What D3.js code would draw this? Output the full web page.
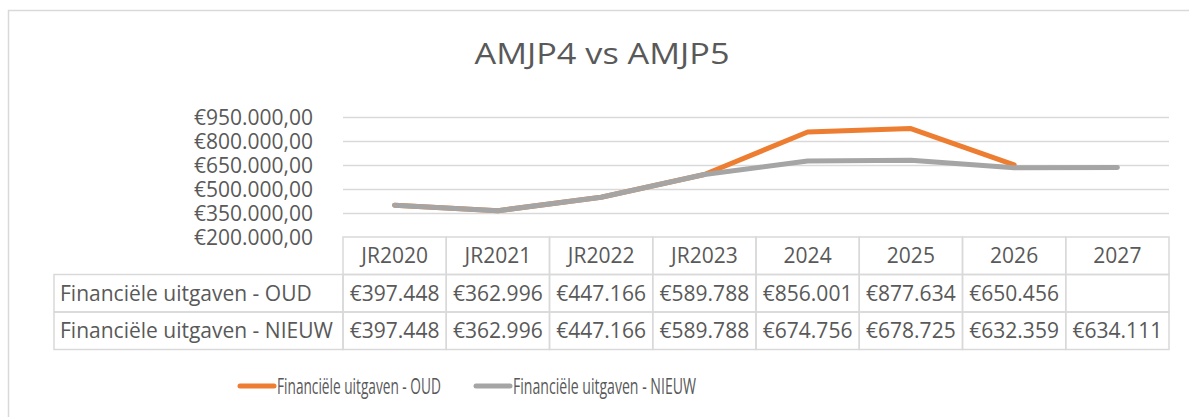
<!DOCTYPE html>
<html>
<head>
<meta charset="utf-8">
<script src="https://cdn.jsdelivr.net/npm/d3@7"></script>
<style>
  body { margin: 0; background: #fff; }
  text { font-family: "Open Sans", sans-serif; fill: #595959; }
</style>
</head>
<body>
<div id="chart"></div>
<script>
var categories = ['JR2020', 'JR2021', 'JR2022', 'JR2023', '2024', '2025', '2026', '2027'];
var oudValues = [397448, 362996, 447166, 589788, 856001, 877634, 650456, null];
var nieuwValues = [397448, 362996, 447166, 589788, 674756, 678725, 632359, 634111];
var seriesNames = ['Financiële uitgaven - OUD', 'Financiële uitgaven - NIEUW'];
var seriesColors = ['#ED7D31', '#A5A5A5'];
var yTicks = [200000, 350000, 500000, 650000, 800000, 950000];

var w = 1189, h = 417;

var svg = d3.select('#chart').append('svg')
  .attr('width', w)
  .attr('height', h);

// chart frame (only top and left edges visible)
svg.append('rect')
  .attr('x', 8.5).attr('y', 10.5)
  .attr('width', 1200).attr('height', 420)
  .attr('fill', 'none')
  .attr('stroke', '#D9D9D9')
  .attr('stroke-width', 1.5);

svg.append('text')
  .attr('x', 602).attr('y', 64)
  .attr('text-anchor', 'middle')
  .style('font-size', '29px')
  .attr('textLength', 255)
  .attr('lengthAdjust', 'spacingAndGlyphs')
  .text('AMJP4 vs AMJP5');

var x = d3.scaleBand()
  .domain(categories)
  .range([343, 1169]);

var y = d3.scaleLinear()
  .domain([200000, 950000])
  .range([236.7, 117]);

var euro = function(v) {
  var s = d3.format(',.2f')(v);
  return '€' + s.replace(/,/g, '#').replace('.', ',').replace(/#/g, '.');
};

// gridlines
svg.append('g')
  .selectAll('line')
  .data(yTicks.slice(1))
  .join('line')
  .attr('x1', 343).attr('x2', 1169)
  .attr('y1', function(d) { return Math.round(y(d)) + 0.5; })
  .attr('y2', function(d) { return Math.round(y(d)) + 0.5; })
  .attr('stroke', '#D9D9D9')
  .attr('stroke-width', 1.5);

var yAxis = svg.append('g')
  .attr('transform', 'translate(313,0)')
  .call(d3.axisLeft(y).tickValues(yTicks).tickSize(0).tickPadding(0).tickFormat(euro));
yAxis.select('.domain').remove();
yAxis.selectAll('text')
  .attr('fill', '#595959')
  .style('font-family', '"Open Sans", sans-serif')
  .style('font-size', '21px')
  .attr('dy', '0.36em');

// lines
var line = d3.line()
  .defined(function(d) { return d != null; })
  .x(function(d, i) { return x(categories[i]) + x.bandwidth() / 2; })
  .y(function(d) { return y(d); });

[oudValues, nieuwValues].forEach(function(vals, k) {
  svg.append('path')
    .datum(vals)
    .attr('d', line)
    .attr('fill', 'none')
    .attr('stroke', seriesColors[k])
    .attr('stroke-width', 5)
    .attr('stroke-linejoin', 'round')
    .attr('stroke-linecap', 'round');
});

// data table
var tableTop = 237, rowH = 37.5, labelLeft = 54;
var table = svg.append('g');
var rows = [oudValues, nieuwValues];
var gridStroke = '#D9D9D9';

table.selectAll('rect.head')
  .data(categories)
  .join('rect')
  .attr('class', 'head')
  .attr('x', function(d) { return x(d); })
  .attr('y', tableTop)
  .attr('width', x.bandwidth())
  .attr('height', rowH)
  .attr('fill', 'none')
  .attr('stroke', gridStroke)
  .attr('stroke-width', 1.5);

table.selectAll('text.head')
  .data(categories)
  .join('text')
  .attr('class', 'head')
  .attr('x', function(d) { return x(d) + x.bandwidth() / 2; })
  .attr('y', tableTop + rowH / 2)
  .attr('dy', '0.36em')
  .attr('text-anchor', 'middle')
  .style('font-size', '21px')
  .text(function(d) { return d; });

rows.forEach(function(vals, r) {
  var top = tableTop + rowH * (r + 1);
  table.append('rect')
    .attr('x', labelLeft).attr('y', top)
    .attr('width', x.range()[0] - labelLeft).attr('height', rowH)
    .attr('fill', 'none').attr('stroke', gridStroke).attr('stroke-width', 1.5);
  table.append('text')
    .attr('x', labelLeft + 6).attr('y', top + rowH / 2)
    .attr('dy', '0.36em')
    .style('font-size', '21px')
    .text(seriesNames[r]);
  categories.forEach(function(c, i) {
    table.append('rect')
      .attr('x', x(c)).attr('y', top)
      .attr('width', x.bandwidth()).attr('height', rowH)
      .attr('fill', 'none').attr('stroke', gridStroke).attr('stroke-width', 1.5);
    if (vals[i] != null) {
      table.append('text')
        .attr('x', x(c) + x.bandwidth() / 2).attr('y', top + rowH / 2)
        .attr('dy', '0.36em')
        .attr('text-anchor', 'middle')
        .style('font-size', '21px')
        .text('€' + d3.format(',')(vals[i]).replace(/,/g, '.'));
    }
  });
});

// legend - text in the original is narrow but tall, so squeeze it horizontally
var legendItems = [
  { x: 239, textW: 164 },
  { x: 475, textW: 183 }
];
legendItems.forEach(function(it, k) {
  var g = svg.append('g').attr('transform', 'translate(' + it.x + ',386)');
  g.append('line')
    .attr('x1', 1).attr('x2', 35)
    .attr('stroke', seriesColors[k])
    .attr('stroke-width', 5)
    .attr('stroke-linecap', 'round');
  var t = g.append('text')
    .attr('dy', '0.36em')
    .style('font-size', '22px')
    .text(seriesNames[k]);
  var natural = t.node().getComputedTextLength();
  t.attr('transform', 'translate(38,0) scale(' + (it.textW / natural) + ',1)');
});
</script>
</body>
</html>
